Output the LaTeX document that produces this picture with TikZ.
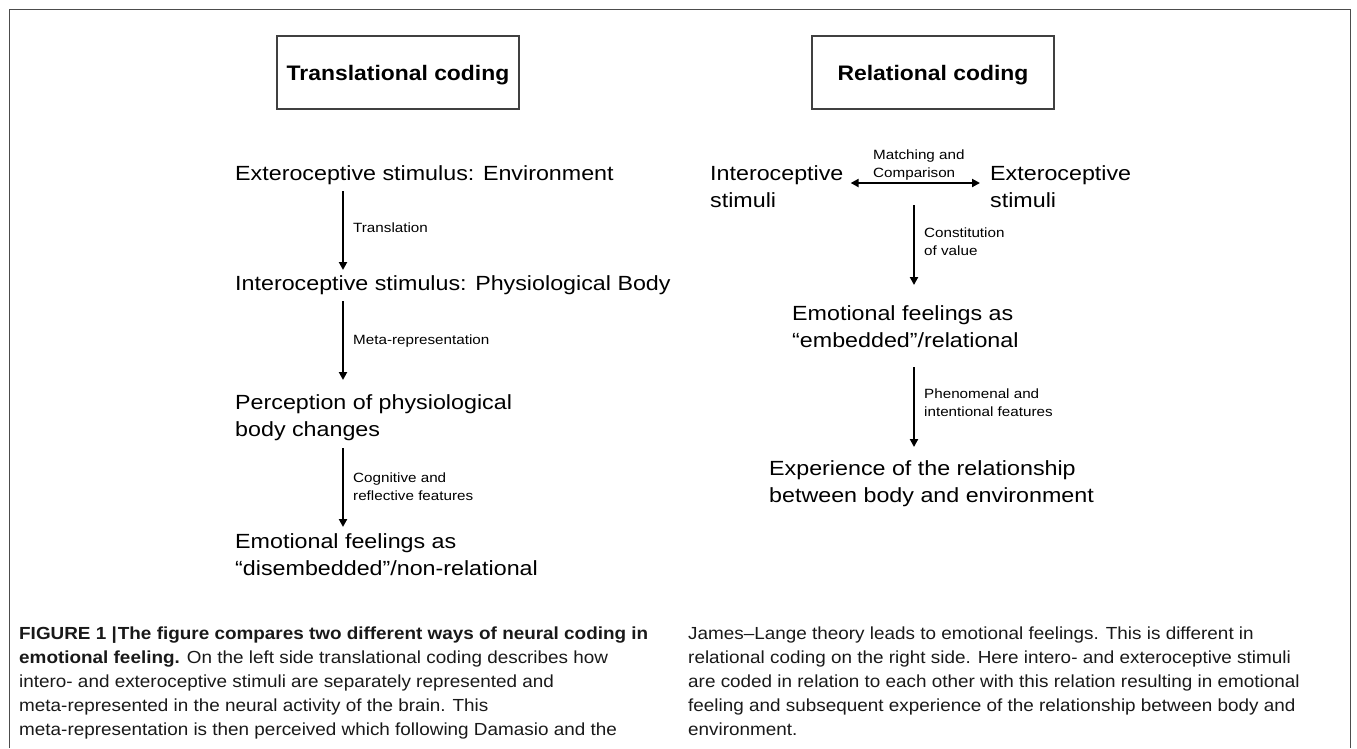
\documentclass[tikz,border=0pt]{standalone}
\usepackage{fontspec}
\setmainfont{Liberation Sans}
\newfontfamily\figfont[FakeStretch=1.135]{Liberation Sans}
\newfontfamily\titlefont[FakeStretch=1.09]{Liberation Sans}
\newfontfamily\capfont[FakeStretch=1.08]{Liberation Sans}
\usetikzlibrary{arrows.meta,calc}
\newcommand{\mlines}[1]{\begin{tabular}[t]{@{}l@{}}#1\end{tabular}}
\begin{document}
\begin{tikzpicture}[x=1pt,y=-1pt,
  big/.style={anchor=base west,inner sep=0pt,font=\figfont\fontsize{20.5}{27.5}\selectfont},
  small/.style={anchor=base west,inner sep=0pt,font=\figfont\fontsize{13.4}{18}\selectfont},
  titlebox/.style={draw=black!75,line width=1.4pt,minimum width=242pt,minimum height=73pt,
    inner sep=0pt,text height=15.3pt,text depth=0pt,font=\titlefont\fontsize{21}{26}\selectfont\bfseries},
  captext/.style={anchor=base west,inner sep=0pt,text=black!90,font=\capfont\fontsize{17.5}{24}\selectfont},
  outerframe/.style={draw=black!70,line width=1pt},
  arr/.style={line width=2.2pt,-{Triangle[length=8pt,width=8pt]}},
  darr/.style={line width=2.2pt,{Triangle[length=8pt,width=8pt]}-{Triangle[length=8pt,width=8pt]}}]
\useasboundingbox (0,0) rectangle (1357,748);
\draw[outerframe] (9,748) |- (1350,9) -- (1350,748);

% column x positions of the vertical arrows
\coordinate (LX) at (343,0);
\coordinate (RX) at (914,0);

% titles
\node[titlebox] (tl) at (398,72.5) {Translational coding};
\node[titlebox] (tr) at (933,72.5) {Relational coding};

% left column
\node[big] (ext) at (235,180) {Exteroceptive stimulus: Environment};
\node[big] (int) at (235,290) {Interoceptive stimulus: Physiological Body};
\node[big] (per) at (235,409) {\mlines{Perception of physiological\\body changes}};
\node[big] (emoL) at (235,548) {\mlines{Emotional feelings as\\“disembedded”/non-relational}};

\node[small] (l1) at (353,232.5) {Translation};
\node[small] (l2) at (353,344.5) {Meta-representation};
\node[small] (l3) at (353,482.5) {\mlines{Cognitive and\\reflective features}};

\draw[arr] ($(ext.base -| LX)+(0,11)$) -- ($(int.base -| LX)+(0,-20)$);
\draw[arr] ($(int.base -| LX)+(0,11)$) -- ($(per.base -| LX)+(0,-29)$);
\draw[arr] ($(per.base -| LX)+(0,39)$) -- ($(emoL.base -| LX)+(0,-21)$);

% right column
\node[big] (ri) at (710,180) {\mlines{Interoceptive\\stimuli}};
\node[big] (re) at (990,180) {\mlines{Exteroceptive\\stimuli}};
\node[small] (mc) at (873,159.5) {\mlines{Matching and\\Comparison}};
\node[big] (emoR) at (792,320) {\mlines{Emotional feelings as\\“embedded”/relational}};
\node[big] (exp) at (769,475) {\mlines{Experience of the relationship\\between body and environment}};
\node[small] (r2) at (924,237.5) {\mlines{Constitution\\of value}};
\node[small] (r3) at (924,398.5) {\mlines{Phenomenal and\\intentional features}};

\draw[darr] ($(ri.base east)+(7,3)$) -- ($(re.base west)+(-10,3)$);
\draw[arr] ($(mc.base -| RX)+(0,45.5)$) -- ($(emoR.base -| RX)+(0,-35)$);
\draw[arr] ($(emoR.base -| RX)+(0,47)$) -- ($(exp.base -| RX)+(0,-28)$);

% caption
\node[captext] (capL) at (19,639) {\mlines{\textbf{FIGURE 1 |\kern1pt The figure compares two different ways of neural coding in}\\
\textbf{emotional feeling.} On the left side translational coding describes how\\
intero- and exteroceptive stimuli are separately represented and\\
meta-represented in the neural activity of the brain. This\\
meta-representation is then perceived which following Damasio and the}};
\node[captext] (capR) at (688,639) {\mlines{James–Lange theory leads to emotional feelings. This is different in\\
relational coding on the right side. Here intero- and exteroceptive stimuli\\
are coded in relation to each other with this relation resulting in emotional\\
feeling and subsequent experience of the relationship between body and\\
environment.}};
\end{tikzpicture}
\end{document}
